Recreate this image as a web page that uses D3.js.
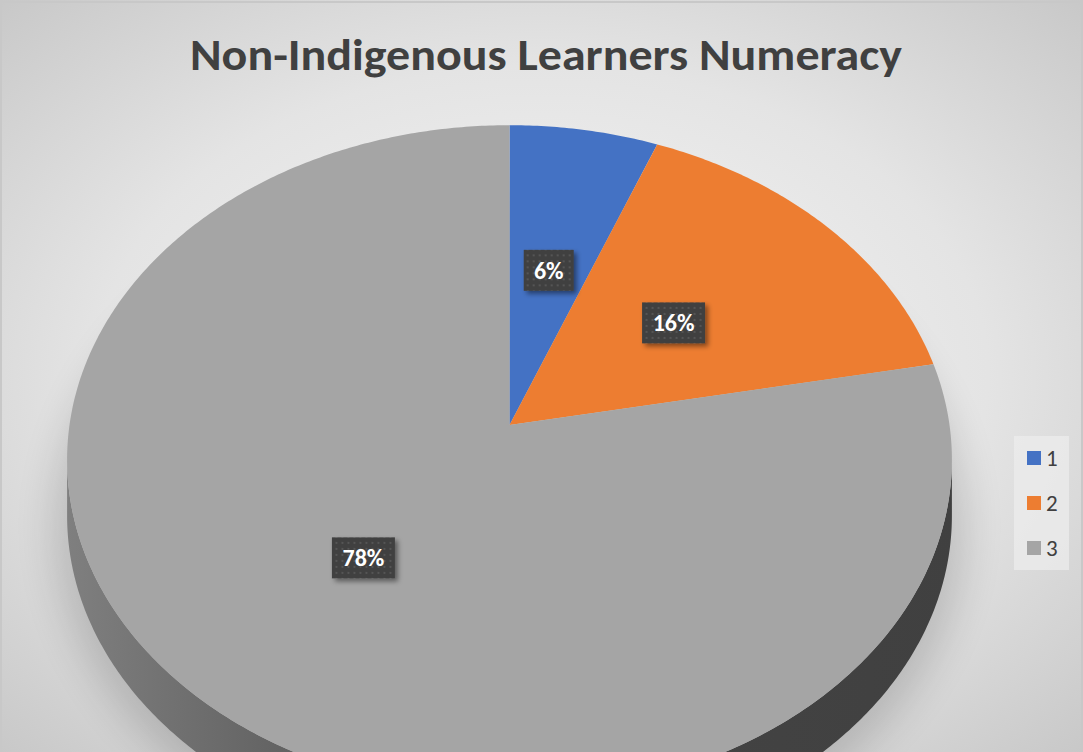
<!DOCTYPE html>
<html>
<head>
<meta charset="utf-8">
<script src="https://cdn.jsdelivr.net/npm/d3@7"></script>
<style>
  body { margin: 0; overflow: hidden; }
  svg { display: block; }
</style>
</head>
<body>
<div id="chart"></div>
<script>
// Chart data
const title = "Non-Indigenous Learners Numeracy";
const categories = ["1", "2", "3"];
const values = [6, 16, 78];
const colors = ["#4472C4", "#ED7D31", "#A5A5A5"];

const width = 1083, height = 752;

// 3D pie geometry: perspective projection of a tilted disc
const cx = 509.5, cy = 425;   // projected centre of the disc
const R = 440, H = 331;       // horizontal / vertical radius before perspective
const k = 0.104;              // perspective strength (near side bigger)
const depth = 56;             // thickness of the disc in pixels

const svg = d3.select("#chart")
  .append("svg")
  .attr("width", width)
  .attr("height", height);

const defs = svg.append("defs");

// Background radial gradient
const bg = defs.append("radialGradient")
  .attr("id", "bg")
  .attr("cx", "50%").attr("cy", "50%").attr("r", "75%");
bg.append("stop").attr("offset", "0%").attr("stop-color", "#f7f7f7");
bg.append("stop").attr("offset", "55%").attr("stop-color", "#e4e4e4");
bg.append("stop").attr("offset", "100%").attr("stop-color", "#c4c4c4");

// Side shading gradient
const side = defs.append("linearGradient")
  .attr("id", "side")
  .attr("gradientUnits", "userSpaceOnUse")
  .attr("x1", 60).attr("x2", 960).attr("y1", 0).attr("y2", 0);
side.append("stop").attr("offset", "0%").attr("stop-color", "#808080");
side.append("stop").attr("offset", "15%").attr("stop-color", "#6e6e6e");
side.append("stop").attr("offset", "35%").attr("stop-color", "#575757");
side.append("stop").attr("offset", "60%").attr("stop-color", "#444444");
side.append("stop").attr("offset", "100%").attr("stop-color", "#404040");

// Soft shadow below the pie
defs.append("filter").attr("id", "blur")
  .attr("x", "-20%").attr("y", "-20%").attr("width", "140%").attr("height", "140%")
  .append("feGaussianBlur").attr("stdDeviation", 20);

// Label shadow
const ls = defs.append("filter").attr("id", "lshadow")
  .attr("x", "-30%").attr("y", "-30%").attr("width", "170%").attr("height", "180%");
ls.append("feDropShadow")
  .attr("dx", 3).attr("dy", 3).attr("stdDeviation", 2.5)
  .attr("flood-color", "#000").attr("flood-opacity", 0.45);

// Dotted label fill pattern
const pat = defs.append("pattern")
  .attr("id", "dots")
  .attr("width", 6).attr("height", 6)
  .attr("patternUnits", "userSpaceOnUse");
pat.append("rect").attr("width", 6).attr("height", 6).attr("fill", "#404040");
pat.append("rect").attr("x", 2).attr("y", 2).attr("width", 2).attr("height", 2).attr("fill", "#555555");

svg.append("rect")
  .attr("width", width).attr("height", height)
  .attr("fill", "url(#bg)");

svg.append("rect")
  .attr("x", 1).attr("y", 2).attr("width", width - 2).attr("height", height)
  .attr("fill", "none").attr("stroke", "#c8c8c8").attr("stroke-width", 2);

// Title
svg.append("text")
  .attr("x", 546)
  .attr("y", 70)
  .attr("text-anchor", "middle")
  .attr("font-family", "Carlito, 'Open Sans', sans-serif")
  .attr("font-weight", "bold")
  .attr("font-size", 44)
  .attr("textLength", 712)
  .attr("lengthAdjust", "spacingAndGlyphs")
  .attr("fill", "#404040")
  .text(title);

// Pie layout (clockwise from 12 o'clock)
const pie = d3.pie().sort(null).value(d => d.value);
const arcs = pie(categories.map((c, i) => ({ name: c, value: values[i], color: colors[i] })));

// project angle a (0 = top/far, clockwise) at radius fraction f
function proj(a, f = 1, dy = 0) {
  const s = Math.sin(a) * f, c = Math.cos(a) * f;
  const p = 1 / (1 + k * c);
  return [cx + R * s * p, cy - H * c * p + dy];
}
const line = d3.line();

function sample(a0, a1, dy) {
  const n = Math.max(2, Math.ceil(Math.abs(a1 - a0) / 0.01));
  return d3.range(n + 1).map(i => proj(a0 + (a1 - a0) * i / n, 1, dy));
}

// shadow
svg.append("ellipse")
  .attr("cx", cx).attr("cy", 470 + depth)
  .attr("rx", 455).attr("ry", 345)
  .attr("fill", "#000").attr("opacity", 0.16)
  .attr("filter", "url(#blur)");

// side wall: between the two silhouette points (where x is extreme)
const aRight = Math.acos(-k), aLeft = 2 * Math.PI - aRight;
const rimTop = sample(aRight, aLeft, 0);
const rimBottom = sample(aRight, aLeft, depth).reverse();
svg.append("path")
  .attr("d", line(rimTop.concat(rimBottom)) + "Z")
  .attr("fill", "url(#side)");

// top face
arcs.forEach(d => {
  const pts = [[cx, cy]].concat(sample(d.startAngle, d.endAngle, 0));
  svg.append("path")
    .attr("d", line(pts) + "Z")
    .attr("fill", d.data.color);
});

// data labels
arcs.forEach(d => {
  const mid = (d.startAngle + d.endAngle) / 2;
  const [x, y] = proj(mid, 0.5);
  const g = svg.append("g").attr("transform", `translate(${x},${y})`);
  const w = d.data.value >= 10 ? 63 : 50;
  g.append("rect")
    .attr("x", -w / 2).attr("y", -20.5)
    .attr("width", w).attr("height", 41)
    .attr("fill", "url(#dots)")
    .attr("filter", "url(#lshadow)");
  g.append("text")
    .attr("text-anchor", "middle")
    .attr("y", 8.5)
    .attr("font-family", "Carlito, 'Open Sans', sans-serif")
    .attr("font-weight", "bold")
    .attr("font-size", 24)
    .attr("fill", "#ffffff")
    .text(d.data.value + "%");
});

// legend
const legend = svg.append("g").attr("transform", "translate(1014,436)");
legend.append("rect")
  .attr("width", 55).attr("height", 134)
  .attr("fill", "#ececec").attr("opacity", 0.75);
categories.forEach((c, i) => {
  legend.append("rect")
    .attr("x", 13).attr("y", 15 + i * 45)
    .attr("width", 14).attr("height", 14)
    .attr("fill", colors[i]);
  legend.append("text")
    .attr("x", 32).attr("y", 30 + i * 45)
    .attr("font-family", "Carlito, 'Open Sans', sans-serif")
    .attr("font-size", 23)
    .attr("fill", "#404040")
    .text(c);
});
</script>
</body>
</html>
